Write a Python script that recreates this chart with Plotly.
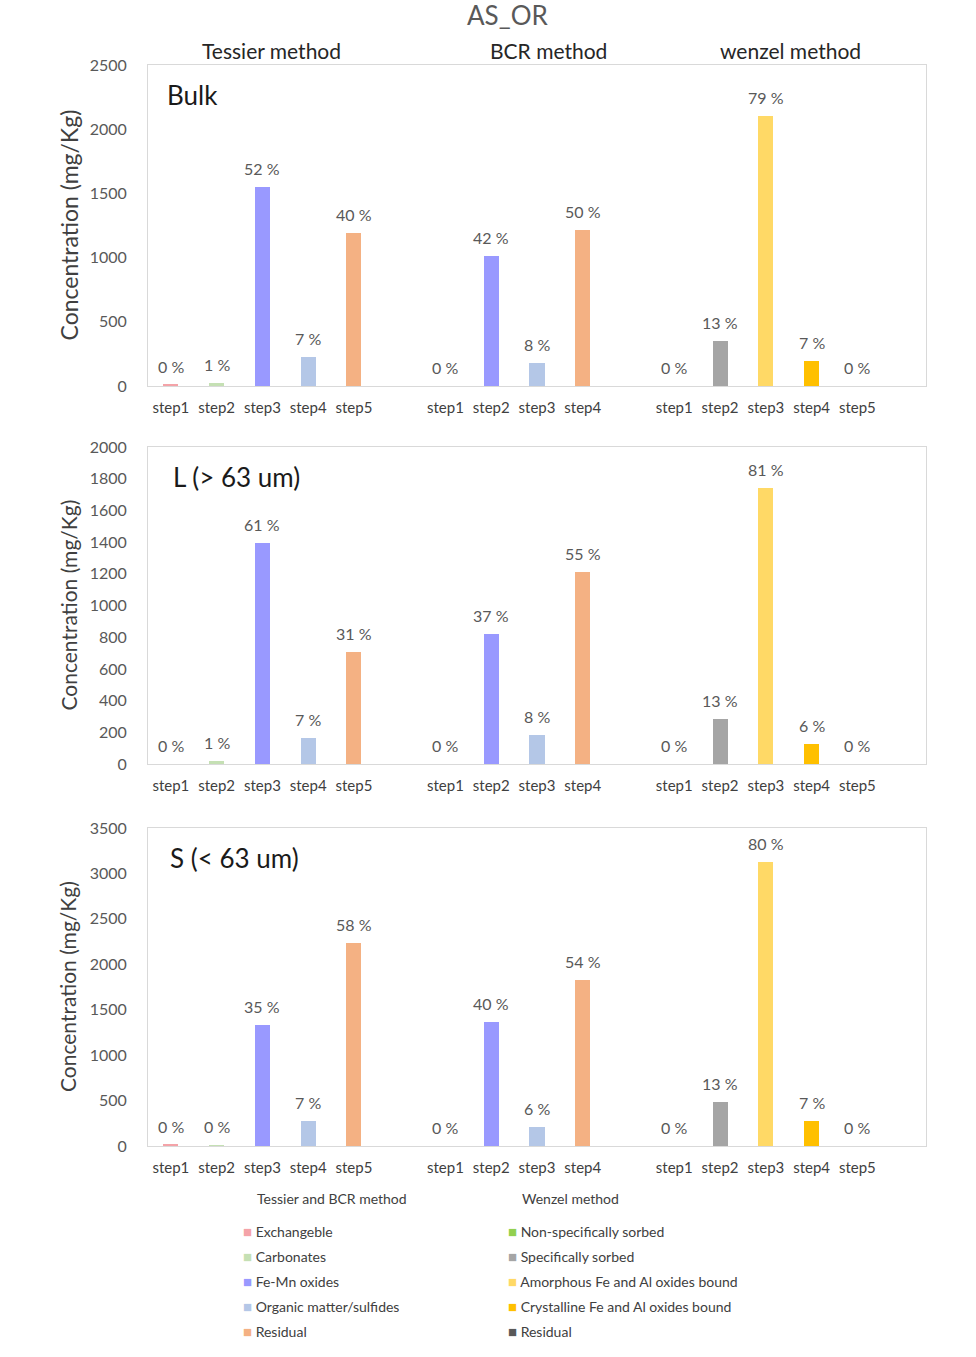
import plotly.graph_objects as go

# ---------------- data ----------------
title_text = "AS_OR"
method_names = ["Tessier method", "BCR method", "wenzel method"]
panel_names = ["Bulk", "L (> 63 um)", "S (< 63 um)"]

tessier_steps = ["step1", "step2", "step3", "step4", "step5"]
bcr_steps = ["step1", "step2", "step3", "step4"]
wenzel_steps = ["step1", "step2", "step3", "step4", "step5"]

tessier_fractions = ["Exchangeble", "Carbonates", "Fe-Mn oxides", "Organic matter/sulfides", "Residual"]
bcr_fractions = ["Exchangeble", "Fe-Mn oxides", "Organic matter/sulfides", "Residual"]
wenzel_fractions = ["Non-specifically sorbed", "Specifically sorbed", "Amorphous Fe and Al oxides bound",
                    "Crystalline Fe and Al oxides bound", "Residual "]

# concentrations (mg/Kg)
bulk_tessier = [10, 20, 1550, 226, 1192]
bulk_bcr = [0, 1012, 179, 1215]
bulk_wenzel = [0, 350, 2103, 195, 0]
L_tessier = [0, 20, 1392, 163, 708]
L_bcr = [0, 821, 182, 1210]
L_wenzel = [0, 282, 1743, 125, 0]
S_tessier = [12, 10, 1334, 273, 2231]
S_bcr = [0, 1367, 208, 1827]
S_wenzel = [0, 481, 3128, 273, 0]

# percentage labels
bulk_tessier_pct = [0, 1, 52, 7, 40]
bulk_bcr_pct = [0, 42, 8, 50]
bulk_wenzel_pct = [0, 13, 79, 7, 0]
L_tessier_pct = [0, 1, 61, 7, 31]
L_bcr_pct = [0, 37, 8, 55]
L_wenzel_pct = [0, 13, 81, 6, 0]
S_tessier_pct = [0, 0, 35, 7, 58]
S_bcr_pct = [0, 40, 6, 54]
S_wenzel_pct = [0, 13, 80, 7, 0]

y_max = [2500, 2000, 3500]
y_dtick = [500, 200, 500]

# ---------------- styles ----------------
colors = {
    "Exchangeble": "#F4A3A8",
    "Carbonates": "#C5E0B4",
    "Fe-Mn oxides": "#9999FF",
    "Organic matter/sulfides": "#B4C7E7",
    "Residual": "#F4B183",
    "Non-specifically sorbed": "#92D050",
    "Specifically sorbed": "#A5A5A5",
    "Amorphous Fe and Al oxides bound": "#FFD966",
    "Crystalline Fe and Al oxides bound": "#FFC000",
    "Residual ": "#595959",
}
FONT = "Lato, Open Sans, sans-serif"

W, H = 976, 1357
L_M, T_M = 148, 65
PW, PH = 778, 1081
R_M = W - L_M - PW
B_M = H - T_M - PH


def px_x(px):
    return (px - L_M) / PW


def px_y(py):
    return (T_M + PH - py) / PH


panel_px = [(65, 386), (447, 764), (828, 1146)]
panel_label_x = [165, 171, 168]
ytitle_size = [23, 21, 21]

# x positions: groups separated by one empty slot
groups = [tessier_steps, bcr_steps, wenzel_steps]
group_pos = []
start = 0
for g in groups:
    group_pos.append(list(range(start, start + len(g))))
    start += len(g) + 1
n_slots = start - 1

panel_data = [
    [(bulk_tessier, bulk_tessier_pct), (bulk_bcr, bulk_bcr_pct), (bulk_wenzel, bulk_wenzel_pct)],
    [(L_tessier, L_tessier_pct), (L_bcr, L_bcr_pct), (L_wenzel, L_wenzel_pct)],
    [(S_tessier, S_tessier_pct), (S_bcr, S_bcr_pct), (S_wenzel, S_wenzel_pct)],
]
fractions = [tessier_fractions, bcr_fractions, wenzel_fractions]

fig = go.Figure()
annotations = []

for p, pdata in enumerate(panel_data):
    ax = "" if p == 0 else str(p + 1)
    for g, (vals, pcts) in enumerate(pdata):
        fig.add_trace(go.Bar(
            x=group_pos[g], y=vals, width=0.33,
            marker=dict(color=[colors[f] for f in fractions[g]], line=dict(width=0)),
            customdata=fractions[g],
            hovertemplate="%{customdata}: %{y}<extra></extra>",
            xaxis="x" + ax, yaxis="y" + ax, showlegend=False,
        ))
        for xv, yv, pc in zip(group_pos[g], vals, pcts):
            annotations.append(dict(
                x=xv, y=yv, xref="x" + ax, yref="y" + ax, text=f"{pc} %",
                showarrow=False, yanchor="bottom", yshift=7,
                font=dict(family=FONT, size=16, color="#595959"),
            ))

tickvals = [v for gp in group_pos for v in gp]
ticktext = [s for g in groups for s in g]

layout = dict(
    width=W, height=H,
    margin=dict(l=L_M, r=R_M, t=T_M, b=B_M),
    paper_bgcolor="white", plot_bgcolor="white",
    font=dict(family=FONT, color="#595959"),
    bargap=0,
)
for p in range(3):
    ax = "" if p == 0 else str(p + 1)
    top, bot = panel_px[p]
    layout["xaxis" + ax] = dict(
        domain=[0, 1], anchor="y" + ax, range=[-0.5, n_slots + 0.5],
        tickvals=tickvals, ticktext=ticktext, ticks="",
        tickfont=dict(family=FONT, size=15, color="#404040"),
        ticklabelstandoff=8,
        showline=True, mirror=True, linecolor="#D9D9D9", linewidth=1,
        showgrid=False, zeroline=False, fixedrange=True,
    )
    layout["yaxis" + ax] = dict(
        domain=[px_y(bot), px_y(top)], anchor="x" + ax,
        range=[0, y_max[p]], dtick=y_dtick[p], ticks="",
        tickfont=dict(family=FONT, size=16, color="#595959"),
        ticklabelstandoff=17,
        showline=True, mirror=True, linecolor="#D9D9D9", linewidth=1,
        showgrid=False, zeroline=False, fixedrange=True,
    )
    # y title
    annotations.append(dict(
        x=px_x(68), y=px_y((top + bot) / 2), xref="paper", yref="paper",
        text="Concentration (mg/Kg)", textangle=-90, showarrow=False,
        font=dict(family=FONT, size=ytitle_size[p], color="#404040"),
        xanchor="center", yanchor="middle",
    ))
    # panel name
    annotations.append(dict(
        x=px_x(panel_label_x[p]), y=px_y(top + 30), xref="paper", yref="paper",
        text=panel_names[p], showarrow=False, xanchor="left", yanchor="middle",
        font=dict(family=FONT, size=26, color="#1a1a1a"),
    ))

# main title
annotations.append(dict(
    x=px_x(507), y=px_y(15), xref="paper", yref="paper", text=title_text,
    showarrow=False, xanchor="center", yanchor="middle",
    font=dict(family=FONT, size=26, color="#595959"),
))
# method headers
for name, cx in zip(method_names, [271, 548, 790]):
    annotations.append(dict(
        x=px_x(cx), y=px_y(50), xref="paper", yref="paper", text=name,
        showarrow=False, xanchor="center", yanchor="middle",
        font=dict(family=FONT, size=21, color="#262626"),
    ))

# legend (two columns)
legend_cols = [
    ("Tessier and BCR method", ["Exchangeble", "Carbonates", "Fe-Mn oxides", "Organic matter/sulfides", "Residual"], 241),
    ("Wenzel method", wenzel_fractions, 506),
]
for head, items, lx in legend_cols:
    annotations.append(dict(
        x=px_x(lx + 14), y=px_y(1198), xref="paper", yref="paper", text=head,
        showarrow=False, xanchor="left", yanchor="middle",
        font=dict(family=FONT, size=14, color="#404040"),
    ))
    for i, it in enumerate(items):
        annotations.append(dict(
            x=px_x(lx), y=px_y(1231 + 25 * i), xref="paper", yref="paper",
            text=f"<span style='color:{colors[it]};font-size:15px'>■</span> {it.strip()}",
            showarrow=False, xanchor="left", yanchor="middle",
            font=dict(family=FONT, size=14, color="#404040"),
        ))

layout["annotations"] = annotations
fig.update_layout(**layout)
fig.write_html("out.html", config={"displayModeBar": False},
               post_script="document.body.style.margin='0';")
